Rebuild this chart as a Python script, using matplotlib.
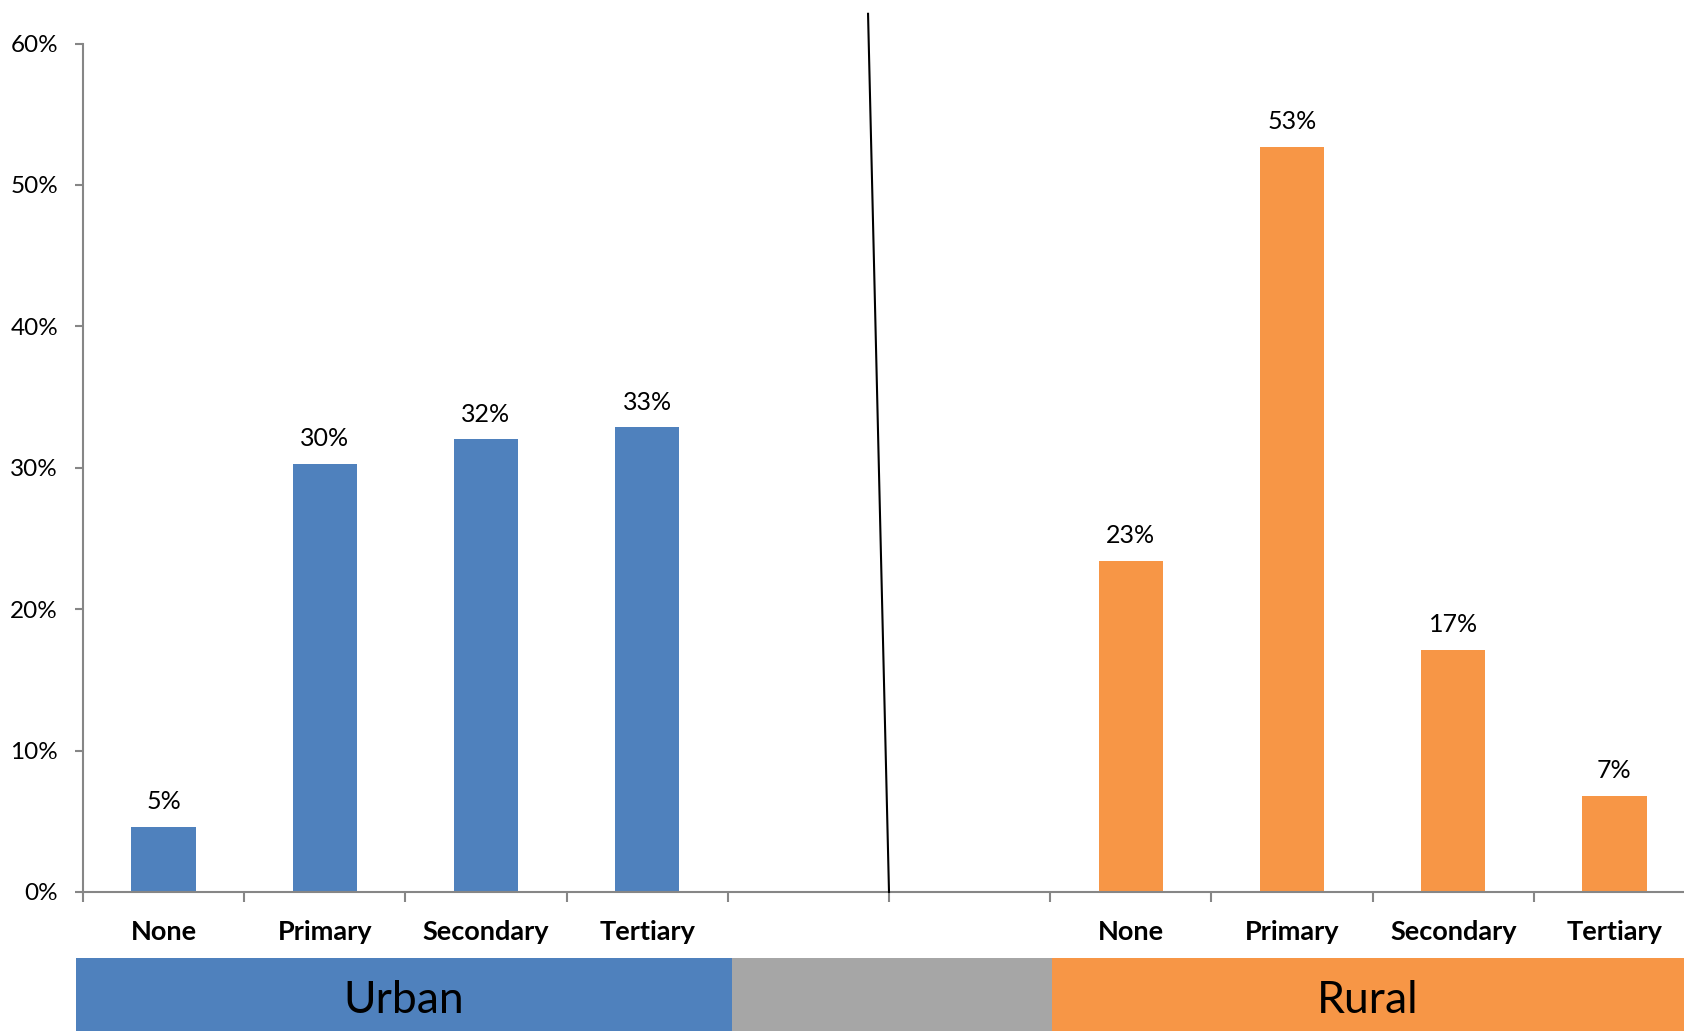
import matplotlib
matplotlib.use("Agg")
import matplotlib.pyplot as plt
from matplotlib.patches import Rectangle
import numpy as np

plt.rcParams['font.family'] = ['Lato', 'DejaVu Sans']

# Education level shares by area
levels = ["None", "Primary", "Secondary", "Tertiary"]
urban = [4.6, 30.3, 32.0, 32.85]
rural = [23.4, 52.7, 17.1, 6.8]
groups = ["Urban", "Rural"]
yticks = [0, 10, 20, 30, 40, 50, 60]

blue = "#4F81BD"
orange = "#F79646"
grey_band = "#A6A6A6"
axis_grey = "#868686"

W, H = 1684, 1031
fig = plt.figure(figsize=(W / 100, H / 100), dpi=100)
ax = fig.add_axes([83 / W, (H - 892) / H, 1612 / W, (892 - 43.5) / H])

# Ten category slots: four urban, two empty, four rural
labels = levels + ["", ""] + levels
x_urban = np.arange(4)
x_rural = np.arange(6, 10)

bw = 0.4
b1 = ax.bar(x_urban, urban, width=bw, color=blue, zorder=2)
b2 = ax.bar(x_rural, rural, width=bw, color=orange, zorder=2)
for bars, vals in ((b1, urban), (b2, rural)):
    for rect, v in zip(bars, vals):
        ax.annotate(f"{v:.0f}%", (rect.get_x() + rect.get_width() / 2, v),
                    xytext=(0, 10), textcoords="offset points",
                    ha="center", va="bottom", fontsize=18, color="black")

ax.set_xlim(-0.5, 9.5)
ax.set_ylim(0, 60)
ax.set_yticks(yticks)
ax.set_yticklabels([f"{t}%" for t in yticks], fontsize=17.5)

ax.set_xticks(np.arange(-0.5, 10, 1.0))
ax.set_xticklabels([])
ax.set_xticks(np.arange(10), minor=True)
ax.set_xticklabels(labels, minor=True, fontsize=19.5, fontweight="bold")
ax.tick_params(axis="x", which="minor", length=0, pad=20.5)
ax.tick_params(axis="x", which="major", length=7, width=1.5, color=axis_grey, direction="out")
ax.tick_params(axis="y", length=6, width=1.5, color=axis_grey, pad=12)

for s in ("top", "right"):
    ax.spines[s].set_visible(False)
for s in ("left", "bottom"):
    ax.spines[s].set_color(axis_grey)
    ax.spines[s].set_linewidth(1.5)

# Divider line between the two groups
ax.plot([4.37, 4.5], [62.1, 0], color="black", lw=1.5, clip_on=False, zorder=3)

# Group band along the bottom
band_h = (H - 957.7) / H
segments = [(76, 731.7, blue, groups[0]), (731.7, 1051.7, grey_band, None),
            (1051.7, W, orange, groups[1])]
for x0, x1, col, txt in segments:
    fig.add_artist(Rectangle((x0 / W, 0), (x1 - x0) / W, band_h,
                             transform=fig.transFigure, color=col, lw=0))
    if txt:
        fig.text((x0 + x1) / 2 / W, band_h / 2 - 0.006, txt, ha="center", va="center",
                 fontsize=32, color="black")

fig.savefig("out.png", dpi=100)
